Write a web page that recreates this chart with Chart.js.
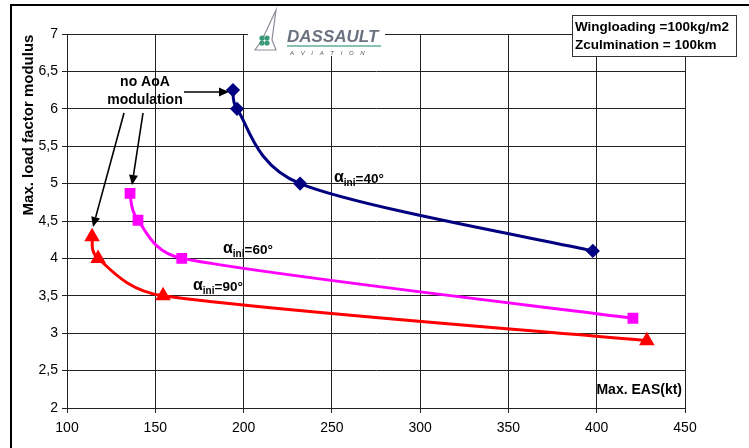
<!DOCTYPE html>
<html><head><meta charset="utf-8">
<script src="https://cdn.jsdelivr.net/npm/chart.js@4"></script>
<style>html,body{margin:0;padding:0;background:#fff}#wrap{width:749px;height:448px;position:relative}</style>
</head><body><div id="wrap"><canvas id="c" width="749" height="448"></canvas></div>
<script>
const xTicks = [100,150,200,250,300,350,400,450];
const yTicks = [2,2.5,3,3.5,4,4.5,5,5.5,6,6.5,7];
const eas40 = [194.0, 196.3, 232.0, 397.8];
const n40   = [6.25, 6.0, 5.0, 4.1];
const eas60 = [135.7, 140.2, 165.0, 420.5];
const n60   = [4.87, 4.51, 4.0, 3.2];
const eas90 = [114.2, 117.6, 154.4, 428.4];
const n90   = [4.29, 4.0, 3.5, 2.9];
const seriesNames = ['αini=40°','αini=60°','αini=90°'];

const pts = (xs, ys) => xs.map((x,i)=>({x, y: ys[i]}));
const F = 'Liberation Sans, Arial, sans-serif';

function arrow(ctx, x1,y1,x2,y2){
  ctx.save();
  ctx.strokeStyle='#000'; ctx.fillStyle='#000'; ctx.lineWidth=1.6;
  const a=Math.atan2(y2-y1,x2-x1), L=10, W=4.5;
  const bx=x2-L*Math.cos(a), by=y2-L*Math.sin(a);
  ctx.beginPath(); ctx.moveTo(x1,y1); ctx.lineTo(bx,by); ctx.stroke();
  ctx.beginPath(); ctx.moveTo(x2,y2);
  ctx.lineTo(bx+W*Math.sin(a), by-W*Math.cos(a));
  ctx.lineTo(bx-W*Math.sin(a), by+W*Math.cos(a));
  ctx.closePath(); ctx.fill();
  ctx.restore();
}
function alphaLabel(ctx, x, y, rest){
  ctx.save(); ctx.fillStyle='#000'; ctx.textBaseline='alphabetic'; ctx.textAlign='left';
  ctx.font='bold 16px '+F; ctx.fillText('α', x, y-1);
  let w=ctx.measureText('α').width;
  ctx.font='bold 10px '+F; ctx.fillText('ini', x+w, y+3);
  w+=ctx.measureText('ini').width;
  ctx.font='bold 13.5px '+F; ctx.fillText(rest, x+w, y);
  ctx.restore();
}

// Excel-style smoothed line: Catmull-Rom bezier with capped control lengths
const excelSmooth = {
  id:'excelSmooth',
  beforeDatasetsDraw(chart){
    chart.data.datasets.forEach((ds, di)=>{
      const meta = chart.getDatasetMeta(di);
      const line = meta.dataset, P = meta.data;
      if (!line || P.length < 2) return;
      line.updateControlPoints(chart.chartArea, 'x');
      const n = P.length;
      const dist=(a,b)=>Math.hypot(b.x-a.x,b.y-a.y);
      for (let i=0;i<n-1;i++){
        const p0=P[Math.max(i-1,0)], p1=P[i], p2=P[i+1], p3=P[Math.min(i+2,n-1)];
        const d12=dist(p1,p2), d02=dist(p0,p2), d13=dist(p1,p3);
        const f = (d02/6 < d12/2) ? 1/6 : d12/(2*d02);
        const g = (d13/6 < d12/2) ? 1/6 : d12/(2*d13);
        p1.cp2x = p1.x + f*(p2.x-p0.x); p1.cp2y = p1.y + f*(p2.y-p0.y);
        p2.cp1x = p2.x - g*(p3.x-p1.x); p2.cp1y = p2.y - g*(p3.y-p1.y);
      }
      line._path = undefined;
    });
  }
};

const deco = {
  id:'deco',
  beforeDraw(chart){
    const ctx=chart.ctx; ctx.save(); ctx.fillStyle='#fff'; ctx.fillRect(0,0,chart.width,chart.height); ctx.restore();
  },
  afterDraw(chart){
    const ctx=chart.ctx;
    ctx.save();
    ctx.strokeStyle='#000'; ctx.lineWidth=2;
    ctx.beginPath(); ctx.moveTo(11,448); ctx.lineTo(11,5); ctx.lineTo(749,5); ctx.stroke();
    ctx.save(); ctx.translate(29,125); ctx.rotate(-Math.PI/2);
    ctx.font='bold 15px '+F; ctx.textAlign='center'; ctx.textBaseline='middle'; ctx.fillStyle='#000';
    ctx.fillText('Max. load factor modulus',0,0); ctx.restore();
    ctx.font='bold 14px '+F; ctx.fillStyle='#000'; ctx.textAlign='right'; ctx.textBaseline='alphabetic';
    ctx.fillText('Max. EAS(kt)',682,394);
    ctx.fillStyle='#fff'; ctx.fillRect(572,15,164,41);
    ctx.strokeStyle='#333'; ctx.lineWidth=1; ctx.strokeRect(572.5,15.5,164,41);
    ctx.fillStyle='#000'; ctx.textAlign='left'; ctx.font='bold 13.5px '+F;
    ctx.fillText('Wingloading =100kg/m2',575,31);
    ctx.fillText('Zculmination = 100km',575,49);
    // logo
    ctx.fillStyle='#fff'; ctx.fillRect(248,8,137,48);
    ctx.strokeStyle='#8a8f98'; ctx.lineWidth=1.2;
    ctx.beginPath(); ctx.moveTo(276,10); ctx.lineTo(262,40); ctx.lineTo(255,50); ctx.lineTo(276,50); ctx.lineTo(272,40); ctx.closePath(); ctx.stroke();
    ctx.fillStyle='#3a9a7a';
    [[262,38],[267,38],[262,43],[267,43]].forEach(p=>{ctx.beginPath(); ctx.arc(p[0],p[1],2.6,0,Math.PI*2); ctx.fill();});
    ctx.fillStyle='#6b7380'; ctx.font='italic bold 17px '+F; ctx.textAlign='left';
    ctx.fillText('DASSAULT',287,42);
    ctx.strokeStyle='#5fae9a'; ctx.lineWidth=1.5;
    ctx.beginPath(); ctx.moveTo(287,46); ctx.lineTo(381,46); ctx.stroke();
    ctx.fillStyle='#555'; ctx.font='italic 6px '+F;
    ctx.fillText('A    V    I    A    T    I    O    N',290,55);
    // annotations
    ctx.fillStyle='#000'; ctx.font='bold 14px '+F; ctx.textAlign='center';
    ctx.fillText('no AoA',145,86);
    ctx.fillText('modulation',145,104);
    arrow(ctx,184,92,229,92);
    arrow(ctx,143,113,132,185);
    arrow(ctx,124,113,93,227);
    alphaLabel(ctx,334,183,'=40°');
    alphaLabel(ctx,223,254,'=60°');
    alphaLabel(ctx,193,291,'=90°');
    ctx.restore();
  }
};

const tickFmt = v => String(v).replace('.', ',');
const common = {showLine:true, tension:0.4, borderWidth:3};
new Chart(document.getElementById('c'), {
  type:'scatter',
  data:{datasets:[
    Object.assign({label:seriesNames[0], data:pts(eas40,n40), borderColor:'#000080', backgroundColor:'#000080', pointStyle:'rectRot', pointRadius:5}, common),
    Object.assign({label:seriesNames[1], data:pts(eas60,n60), borderColor:'#FF00FF', backgroundColor:'#FF00FF', pointStyle:'rect', pointRadius:5.5}, common),
    Object.assign({label:seriesNames[2], data:pts(eas90,n90), borderColor:'#FF0000', backgroundColor:'#FF0000', pointStyle:'triangle', pointRadius:6}, common)
  ]},
  options:{
    responsive:false, animation:false, devicePixelRatio:1,
    layout:{padding:{left:0,right:64,top:34,bottom:0}},
    plugins:{legend:{display:false}, tooltip:{enabled:false}},
    scales:{
      x:{type:'linear', min:100, max:450,
        afterBuildTicks:s=>{s.ticks=xTicks.map(v=>({value:v}));},
        afterFit:s=>{s.height=40;},
        grid:{color:'#222', lineWidth:1, tickLength:5, drawTicks:true},
        border:{color:'#222', width:1},
        ticks:{color:'#000', font:{family:F,size:14}, padding:7}},
      y:{type:'linear', min:2, max:7,
        afterBuildTicks:s=>{s.ticks=yTicks.map(v=>({value:v}));},
        afterFit:s=>{s.width=67;},
        grid:{color:'#222', lineWidth:1, tickLength:5, drawTicks:true},
        border:{color:'#222', width:1},
        ticks:{color:'#000', font:{family:F,size:14}, padding:4, callback:tickFmt}}
    }
  },
  plugins:[excelSmooth, deco]
});
</script></body></html>
